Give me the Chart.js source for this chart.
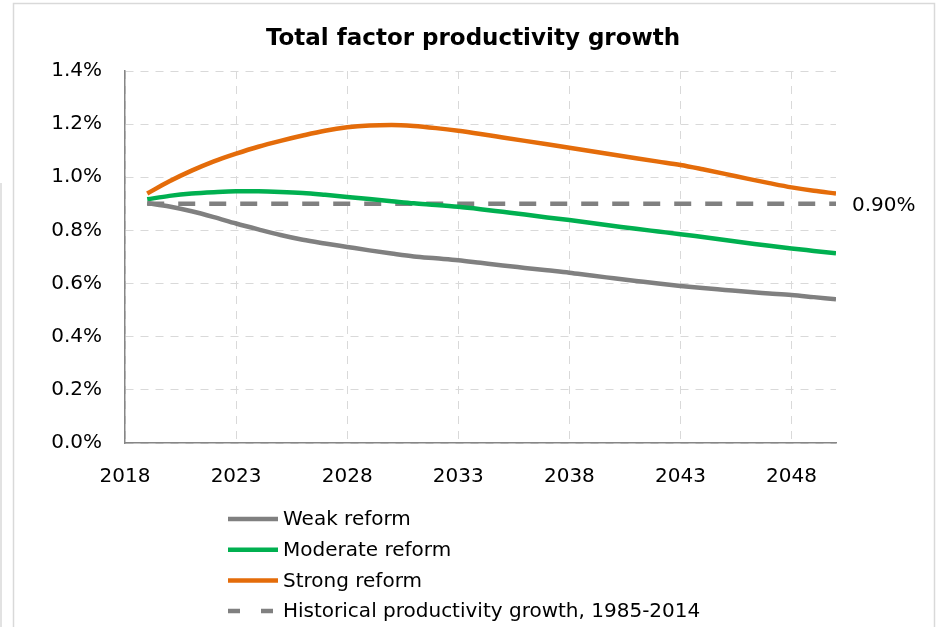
<!DOCTYPE html>
<html>
<head>
<meta charset="utf-8">
<title>Total factor productivity growth</title>
<script src="https://cdn.jsdelivr.net/npm/chart.js@4"></script>
<style>
  html, body { margin: 0; padding: 0; background: #fff; }
  #wrap { width: 941px; height: 627px; }
</style>
</head>
<body>
<div id="wrap"><canvas id="tfpChart" width="941" height="627"></canvas></div>
<script>
// years 2019..2050
const years = [2019, 2020, 2021, 2022, 2023, 2024, 2025, 2026, 2027, 2028,
  2029, 2030, 2031, 2032, 2033, 2034, 2035, 2036, 2037, 2038,
  2039, 2040, 2041, 2042, 2043, 2044, 2045, 2046, 2047, 2048, 2049, 2050];

// values in percent
const weakReform = [0.903, 0.890, 0.872, 0.850, 0.826, 0.804, 0.783, 0.765, 0.751, 0.738,
  0.725, 0.713, 0.702, 0.695, 0.688, 0.678, 0.668, 0.659, 0.650, 0.641,
  0.630, 0.620, 0.610, 0.600, 0.591, 0.583, 0.576, 0.569, 0.563, 0.557, 0.549, 0.541];
const moderateReform = [0.917, 0.930, 0.939, 0.944, 0.947, 0.947, 0.945, 0.941, 0.934, 0.926,
  0.918, 0.910, 0.902, 0.896, 0.889, 0.880, 0.870, 0.860, 0.849, 0.839,
  0.828, 0.817, 0.806, 0.796, 0.786, 0.775, 0.764, 0.753, 0.742, 0.732, 0.723, 0.714];
const strongReform = [0.939, 0.985, 1.025, 1.060, 1.089, 1.115, 1.137, 1.157, 1.175, 1.188,
  1.195, 1.197, 1.193, 1.185, 1.175, 1.163, 1.150, 1.137, 1.124, 1.111,
  1.098, 1.085, 1.072, 1.059, 1.046, 1.030, 1.013, 0.995, 0.978, 0.962, 0.949, 0.939];
const historicalValue = 0.90;

const chartTitle = 'Total factor productivity growth';
const seriesLabels = ['Weak reform', 'Moderate reform', 'Strong reform',
  'Historical productivity growth, 1985-2014'];
const xTickValues = [2018, 2023, 2028, 2033, 2038, 2043, 2048];
const yTickValues = [0, 0.2, 0.4, 0.6, 0.8, 1.0, 1.2, 1.4];

const FONT = 'DejaVu Sans';

function toPoints(arr) {
  return years.map((yr, i) => ({ x: yr, y: arr[i] }));
}

const lineStyle = {
  borderWidth: 4.5,
  pointRadius: 0,
  fill: false,
  tension: 0.4,
  cubicInterpolationMode: 'monotone'
};

// light frame around the picture, as in the screenshot
const framePlugin = {
  id: 'frame',
  beforeDraw(chart) {
    const ctx = chart.ctx;
    ctx.save();
    ctx.strokeStyle = '#d9d9d9';
    ctx.lineWidth = 1.5;
    ctx.strokeRect(13.5, 3.5, 921, 700);
    ctx.beginPath();
    ctx.moveTo(1, 183);
    ctx.lineTo(1, 627);
    ctx.stroke();
    ctx.restore();
  }
};

// title centred over the whole picture
const titlePlugin = {
  id: 'centredTitle',
  afterDraw(chart) {
    const ctx = chart.ctx;
    ctx.save();
    ctx.font = 'bold 23px "' + FONT + '"';
    ctx.fillStyle = '#000';
    ctx.textAlign = 'center';
    ctx.textBaseline = 'middle';
    ctx.fillText(chartTitle, 473, 39);
    ctx.restore();
  }
};

// value label at the end of the historical line
const endLabelPlugin = {
  id: 'endLabel',
  afterDatasetsDraw(chart) {
    const meta = chart.getDatasetMeta(3);
    const last = meta.data[meta.data.length - 1];
    if (!last) return;
    const ctx = chart.ctx;
    ctx.save();
    ctx.font = '20px "' + FONT + '"';
    ctx.fillStyle = '#000';
    ctx.textAlign = 'left';
    ctx.textBaseline = 'middle';
    ctx.fillText(historicalValue.toFixed(2) + '%', last.x + 16, last.y + 2);
    ctx.restore();
  }
};

// one-column legend under the axis
const columnLegendPlugin = {
  id: 'columnLegend',
  afterDraw(chart) {
    const ctx = chart.ctx;
    const x0 = 228, lineLen = 50, top = 519, rowH = 30.7;
    ctx.save();
    ctx.font = '20px "' + FONT + '"';
    ctx.textBaseline = 'middle';
    ctx.textAlign = 'left';
    chart.data.datasets.forEach((ds, i) => {
      const y = top + i * rowH;
      ctx.beginPath();
      ctx.strokeStyle = ds.borderColor;
      ctx.lineWidth = ds.borderWidth;
      ctx.lineCap = 'butt';
      ctx.setLineDash(ds.borderDash && ds.borderDash.length ? [12, 21] : []);
      ctx.moveTo(x0, y);
      ctx.lineTo(x0 + lineLen, y);
      ctx.stroke();
      ctx.setLineDash([]);
      ctx.fillStyle = '#000';
      ctx.fillText(ds.label, x0 + lineLen + 5, y + 1);
    });
    ctx.restore();
  }
};

const ctx = document.getElementById('tfpChart').getContext('2d');
const tfpChart = new Chart(ctx, {
  type: 'line',
  data: {
    datasets: [
      Object.assign({ label: seriesLabels[0], data: toPoints(weakReform), borderColor: '#808080' }, lineStyle),
      Object.assign({ label: seriesLabels[1], data: toPoints(moderateReform), borderColor: '#00b050' }, lineStyle),
      Object.assign({ label: seriesLabels[2], data: toPoints(strongReform), borderColor: '#e46c0a' }, lineStyle),
      {
        label: seriesLabels[3],
        data: years.map(yr => ({ x: yr, y: historicalValue })),
        borderColor: '#808080',
        borderWidth: 4.5,
        borderDash: [17, 14],
        borderCapStyle: 'butt',
        pointRadius: 0,
        fill: false,
        tension: 0
      }
    ]
  },
  options: {
    responsive: false,
    animation: false,
    devicePixelRatio: 1,
    layout: { padding: { left: 0, right: 105, top: 71, bottom: 0 } },
    plugins: {
      legend: { display: false },
      tooltip: { enabled: false },
      title: { display: false }
    },
    scales: {
      x: {
        type: 'linear',
        min: 2018,
        max: 2050,
        afterBuildTicks(scale) {
          scale.ticks = xTickValues.map(v => ({ value: v }));
        },
        afterFit(scale) { scale.height = 184; },
        ticks: {
          color: '#000',
          font: { family: FONT, size: 20 },
          padding: 22,
          maxRotation: 0,
          autoSkip: false,
          callback: v => String(v)
        },
        grid: {
          color: '#d9d9d9',
          lineWidth: 1,
          drawTicks: false
        },
        border: { display: true, color: '#868686', width: 1.5, dash: [8, 7] }
      },
      y: {
        min: 0,
        max: 1.4,
        afterBuildTicks(scale) {
          scale.ticks = yTickValues.map(v => ({ value: v }));
        },
        afterFit(scale) { scale.width = 125; },
        ticks: {
          color: '#000',
          font: { family: FONT, size: 20 },
          padding: 23,
          callback: v => v.toFixed(1) + '%'
        },
        grid: {
          color: '#d9d9d9',
          lineWidth: 1,
          drawTicks: false
        },
        border: { display: true, color: '#868686', width: 1.5, dash: [8, 7] }
      }
    }
  },
  plugins: [framePlugin, titlePlugin, endLabelPlugin, columnLegendPlugin]
});
</script>
</body>
</html>
